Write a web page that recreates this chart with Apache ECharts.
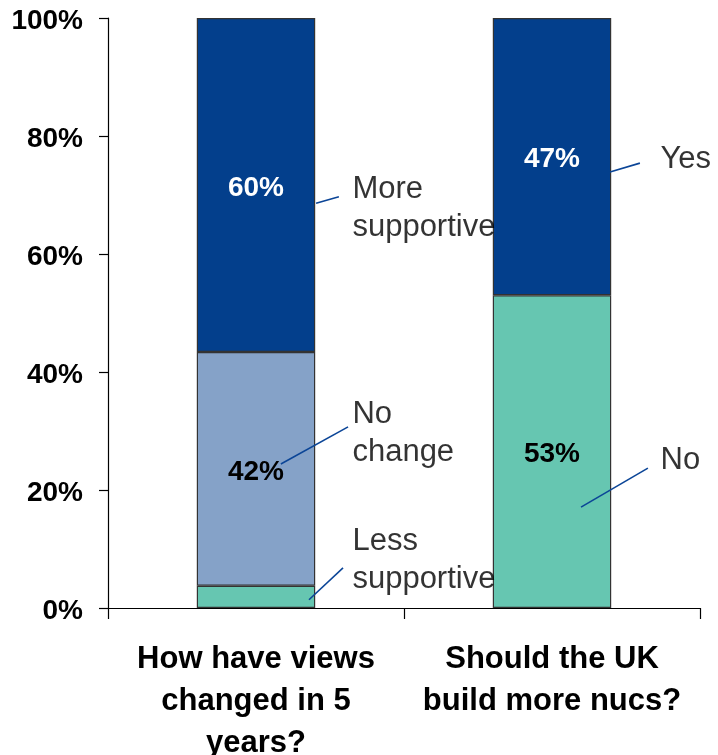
<!DOCTYPE html>
<html>
<head>
<meta charset="utf-8">
<script src="https://cdn.jsdelivr.net/npm/echarts@6/dist/echarts.min.js"></script>
<style>
html,body{margin:0;padding:0;background:#fff;}
#chart{width:718px;height:755px;}
</style>
</head>
<body>
<div id="chart"></div>
<script>
// ---- data ----
const categories = ['How have views\nchanged in 5\nyears?', 'Should the UK\nbuild more nucs?'];
const lessSupportive = [4, null];
const noChange = [42, null];
const moreSupportive = [60, null];
const nucsNo = [null, 53];
const nucsYes = [null, 47];
const yTicks = [0, 20, 40, 60, 80, 100];

// ---- derived percent stack ----
const allSeries = [lessSupportive, noChange, moreSupportive, nucsNo, nucsYes];
const totals = categories.map((c, i) => allSeries.reduce((s, a) => s + (a[i] || 0), 0));
const pct = arr => arr.map((v, i) => v == null ? '-' : { value: v / totals[i] * 100, raw: v });

// ---- annotation layout (hidden value axis 0..2 across the two categories) ----
const annoText = [
  { name: 'More\nsupportive', value: [0.824, 67.8] },
  { name: 'No\nchange', value: [0.824, 29.6] },
  { name: 'Less\nsupportive', value: [0.824, 8.1] },
  { name: 'Yes', value: [1.865, 76.0] },
  { name: 'No', value: [1.865, 25.0] }
];
const leaders = [
  { coords: [[0.703, 68.6], [0.780, 69.7]] },
  { coords: [[0.584, 24.4], [0.811, 30.7]] },
  { coords: [[0.679, 1.4], [0.794, 6.8]] },
  { coords: [[1.696, 73.9], [1.797, 75.4]] },
  { coords: [[1.598, 17.1], [1.824, 23.7]] }
];

const FONT = '"Liberation Sans", Arial, sans-serif';
const DARK = '#033F8C', LIGHT = '#85A2C8', TEAL = '#66C6B1';
const border = { borderColor: '#333333', borderWidth: 1.2 };

function barSeries(name, arr, color, labelColor, showLabel) {
  return {
    name, type: 'bar', stack: 'total', barWidth: '40%',
    xAxisIndex: 0, yAxisIndex: 0,
    data: pct(arr),
    itemStyle: Object.assign({ color }, border),
    label: {
      show: showLabel, position: 'inside', offset: [0, 3],
      formatter: p => p.data && p.data.raw != null ? p.data.raw + '%' : '',
      color: labelColor, fontSize: 28, fontWeight: 'bold', fontFamily: FONT
    },
    emphasis: { disabled: true }
  };
}

const chart = echarts.init(document.getElementById('chart'));
chart.setOption({
  animation: false,
  backgroundColor: '#ffffff',
  grid: { left: 108, right: 18, top: 18, bottom: 147, containLabel: false, outerBoundsMode: 'none' },
  xAxis: [
    {
      type: 'category', data: categories,
      axisLine: { lineStyle: { color: '#000', width: 1.2 } },
      axisTick: { show: true, length: 11, alignWithLabel: false, lineStyle: { color: '#000', width: 1.2 } },
      axisLabel: {
        interval: 0, margin: 30, color: '#000', fontSize: 31, fontWeight: 'bold',
        fontFamily: FONT, lineHeight: 42
      }
    },
    { type: 'value', min: 0, max: 2, show: false }
  ],
  yAxis: {
    type: 'value', min: yTicks[0], max: yTicks[yTicks.length - 1], interval: 20,
    splitLine: { show: false },
    axisLine: { show: true, lineStyle: { color: '#000', width: 1.2 } },
    axisTick: { show: true, length: 9, lineStyle: { color: '#000', width: 1.2 } },
    axisLabel: {
      formatter: v => '{a|' + v + '%}', margin: 25,
      rich: {
        a: { color: '#000', fontSize: 28, fontWeight: 'bold', fontFamily: FONT, padding: [7, 0, 0, 0] }
      }
    }
  },
  series: [
    barSeries('Less supportive', lessSupportive, TEAL, '#000', false),
    barSeries('No change', noChange, LIGHT, '#000', true),
    barSeries('More supportive', moreSupportive, DARK, '#fff', true),
    barSeries('No', nucsNo, TEAL, '#000', true),
    barSeries('Yes', nucsYes, DARK, '#fff', true),
    {
      type: 'lines', coordinateSystem: 'cartesian2d', xAxisIndex: 1, yAxisIndex: 0,
      z: 10, data: leaders, silent: true,
      lineStyle: { color: '#0B4597', width: 1.6, opacity: 1, curveness: 0 }
    },
    {
      type: 'scatter', xAxisIndex: 1, yAxisIndex: 0, z: 11, silent: true,
      symbolSize: 1, itemStyle: { color: 'rgba(0,0,0,0)' },
      data: annoText,
      label: {
        show: true, position: 'right', distance: 0,
        formatter: p => p.name, color: '#000', fontSize: 31, lineHeight: 38,
        fontFamily: FONT
      },
      emphasis: { disabled: true }
    }
  ]
});
</script>
</body>
</html>
